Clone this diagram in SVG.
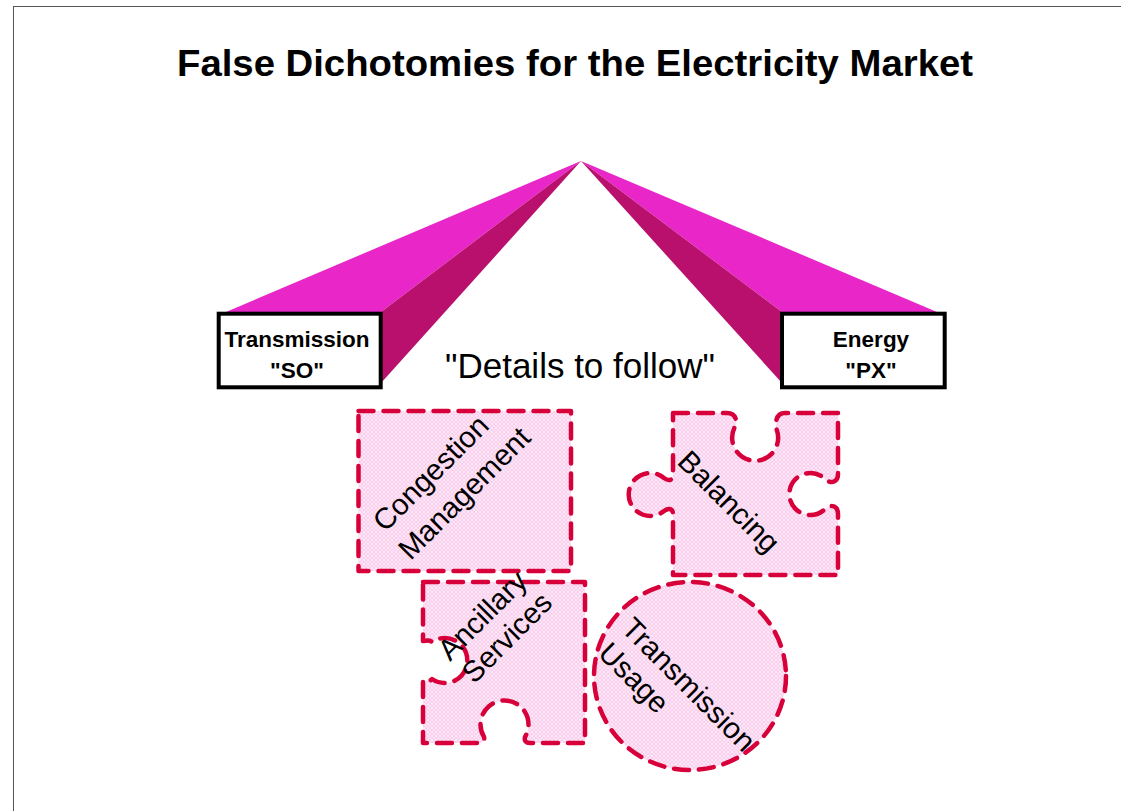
<svg xmlns="http://www.w3.org/2000/svg" width="1121" height="811" viewBox="0 0 1121 811">
<style>
  .title{font-family:"Liberation Sans",Arial,sans-serif;font-weight:bold;font-size:37px;fill:#000}
  .box{fill:#fff;stroke:#000;stroke-width:4}
  .boxtxt{font-family:"Liberation Sans",Arial,sans-serif;font-weight:bold;font-size:22.5px;fill:#000;text-anchor:middle}
  .light{fill:#E927C9}
  .dark{fill:#B8106C}
  .piece{fill:url(#dots);stroke:#D8003A;stroke-width:4.5;stroke-dasharray:15 10;stroke-linecap:round;stroke-linejoin:round}
  .ptxt{font-family:"Liberation Sans",Arial,sans-serif;font-size:29.5px;fill:#000}
  .big{font-family:"Liberation Sans",Arial,sans-serif;font-size:35px;fill:#000}
</style>
<defs>
  <pattern id="dots" width="4" height="4" patternUnits="userSpaceOnUse">
    <rect width="4" height="4" fill="#FFEEF9"/>
    <circle cx="2" cy="2" r="1.5" fill="none" stroke="#F6BCE6" stroke-width="0.7"/>
  </pattern>
</defs>
<rect x="13.5" y="6.5" width="1200" height="900" fill="#fff" stroke="#555" stroke-width="1"/>
<text class="title" x="177" y="76" textLength="796" lengthAdjust="spacingAndGlyphs">False Dichotomies for the Electricity Market</text>

<g id="connectors">
  <polygon class="light" points="581,161 226,312 381,312"/>
  <polygon class="dark" points="581,161 381,312 381,383"/>
  <polygon class="light" points="581,161 782,312 937,312"/>
  <polygon class="dark" points="581,161 782,312 782,383"/>
</g>

<g id="node-so">
  <rect class="box" x="218.7" y="313.7" width="162" height="73.6"/>
  <text class="boxtxt" x="297" y="346.5">Transmission</text>
  <text class="boxtxt" x="297" y="377.5">"SO"</text>
</g>
<g id="node-px">
  <rect class="box" x="782" y="313.7" width="162.7" height="73.6"/>
  <text class="boxtxt" x="871" y="346.5">Energy</text>
  <text class="boxtxt" x="871" y="377.5">"PX"</text>
</g>

<text id="details" class="big" x="445" y="378">"Details to follow"</text>

<g id="node-congestion">
  <rect class="piece" x="358.5" y="411" width="212.5" height="160"/>
  <text class="ptxt" transform="translate(385,533) rotate(-45)"><tspan x="0" y="0">Congestion</tspan><tspan x="-2" y="38">Management</tspan></text>
</g>

<g id="node-balancing">
  <path class="piece" d="M673,413 L727,413 C734,413 737,418 736,425 A23,23 0 1 0 776,428 C775,419 778,413 785,413 L838,413 L838,474 C838,482 832,484 826,480 A21,21 0 1 0 826,508 C832,504 838,506 838,514 L838,575 L673,575 L673,514 C673,508 668,508 664,511 A21.5,21.5 0 1 1 664,478 C668,481 673,481 673,475 Z"/>
  <text class="ptxt" transform="translate(676,463) rotate(45)">Balancing</text>
</g>

<g id="node-ancillary">
  <path class="piece" d="M423,582 L585,582 L585,743 L530,743 C526,743 524,741 525,737 A24,24 0 1 0 484,737 C485,741 483,743 479,743 L423,743 L423,680 C428,682 430,681 432,679 A22.5,22.5 0 1 0 432,642 C430,640 428,640 423,641 Z"/>
  <text class="ptxt" transform="translate(450,662) rotate(-45)"><tspan x="0" y="0">Ancillary</tspan><tspan x="1" y="33">Services</tspan></text>
</g>

<g id="node-usage">
  <ellipse class="piece" cx="690" cy="676" rx="96" ry="94"/>
  <text class="ptxt" transform="translate(620,630) rotate(45)"><tspan x="0" y="0">Transmission</tspan><tspan x="1" y="34">Usage</tspan></text>
</g>
</svg>
